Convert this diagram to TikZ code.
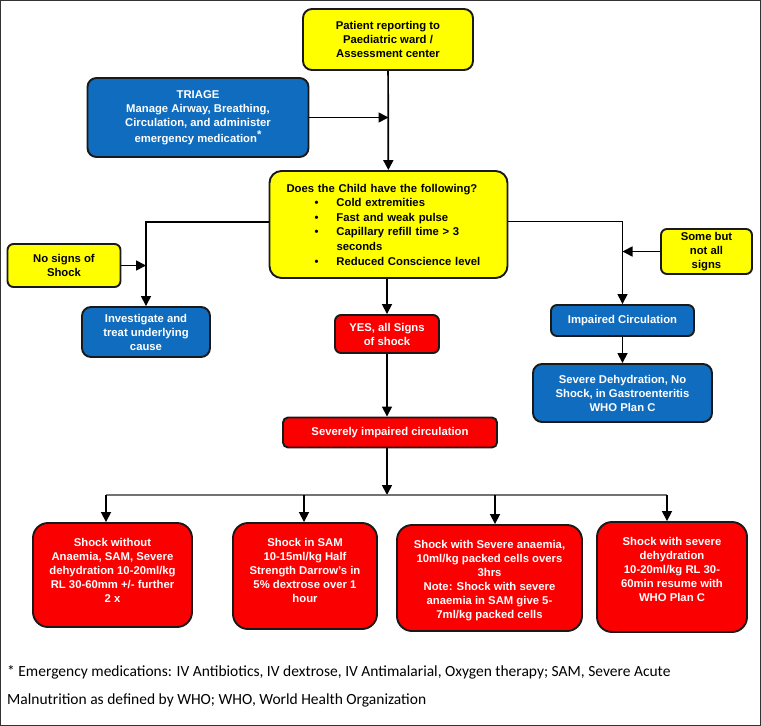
\documentclass[tikz,border=0pt]{standalone}
\usepackage{fontspec}
\setmainfont{Liberation Sans}
\newfontfamily\fnfont{Carlito}
\usetikzlibrary{arrows.meta}
\definecolor{boxyellow}{RGB}{255,255,0}
\definecolor{boxblue}{RGB}{16,108,190}
\definecolor{boxred}{RGB}{250,0,0}
\definecolor{edge}{RGB}{25,25,25}
\newcommand\topbox[3]{\parbox[c][#2][t]{#1}{\centering\rule{0pt}{23pt}#3}}
\begin{document}
\begin{tikzpicture}[x=1pt,y=-1pt,
  base/.style={draw=edge,line width=1.9pt,rounded corners=9pt,font=\fontsize{11.3}{14}\selectfont\bfseries,align=center,inner sep=0pt},
  ybox/.style={base,fill=boxyellow,text=black},
  bbox/.style={base,fill=boxblue,text=white},
  rbox/.style={base,fill=boxred,text=white},
  conn/.style={line width=1.7pt,draw=black},
  arr/.style={conn,-{Triangle[length=10pt,width=10pt]}},
  fn/.style={font=\fnfont\fontsize{15.5}{18}\selectfont,anchor=base west,inner sep=0pt}
]
\useasboundingbox (0,0) rectangle (761,726);
\draw[line width=1.4pt,black!80] (0.7,0.7) rectangle (760.3,725.3);

\node[ybox,minimum width=170pt,minimum height=61pt] (patient) at (388,39.5) {Patient reporting to\\Paediatric ward /\\Assessment center};
\node[bbox,minimum width=221pt,minimum height=79pt] (triage) at (198,117.5) {TRIAGE\\Manage Airway, Breathing,\\Circulation, and administer\\[2pt]emergency medication\raisebox{4pt}{*}};
\node[ybox,minimum width=238pt,minimum height=107pt,align=left,text width=204pt,inner xsep=17pt,rounded corners=12pt,font=\fontsize{11.3}{14.6}\selectfont\bfseries] (question) at (388.5,224.5) {Does the Child have the following?\\
\hspace*{28pt}\makebox[22pt][l]{\textbullet}Cold extremities\\
\hspace*{28pt}\makebox[22pt][l]{\textbullet}Fast and weak pulse\\
\hspace*{28pt}\makebox[22pt][l]{\textbullet}Capillary refill time > 3\\
\hspace*{50pt}seconds\\
\hspace*{28pt}\makebox[22pt][l]{\textbullet}Reduced Conscience level};
\node[ybox,minimum width=113pt,minimum height=43pt,rounded corners=6pt] (nosigns) at (64,265.5) {No signs of\\Shock};
\node[bbox,minimum width=128pt,minimum height=50pt] (invest) at (146,332) {Investigate and\\treat underlying\\cause};
\node[ybox,minimum width=91pt,minimum height=45pt,rounded corners=6pt] (some) at (706.5,251.5) {Some but\\not all\\signs};
\node[bbox,minimum width=143pt,minimum height=31pt,rounded corners=6pt] (impaired) at (622.5,320.5) {Impaired Circulation};
\node[bbox,minimum width=179pt,minimum height=58pt] (sevdeh) at (622.5,393) {Severe Dehydration, No\\Shock, in Gastroenteritis\\WHO Plan C};
\node[rbox,minimum width=104pt,minimum height=38pt,rounded corners=6pt] (yes) at (387,334) {YES, all Signs\\of shock};
\node[rbox,minimum width=214pt,minimum height=30pt,rounded corners=5pt] (severely) at (390,432.5) {Severely impaired circulation};

\node[rbox,rounded corners=15pt,minimum width=159pt] (b1) at (112.5,575) {\topbox{159pt}{104pt}{Shock without\\Anaemia, SAM, Severe\\dehydration 10-20ml/kg\\RL 30-60mm +/- further\\2 x}};
\node[rbox,rounded corners=15pt,minimum width=144pt] (b2) at (305,576) {\topbox{144pt}{106pt}{Shock in SAM\\10-15ml/kg Half\\Strength Darrow’s in\\5\% dextrose over 1\\hour}};
\node[rbox,rounded corners=15pt,minimum width=185pt] (b3) at (489.5,578) {\topbox{185pt}{106pt}{Shock with Severe anaemia,\\10ml/kg packed cells overs\\3hrs\\Note: Shock with severe\\anaemia in SAM give 5-\\7ml/kg packed cells}};
\node[rbox,rounded corners=15pt,minimum width=150pt] (b4) at (672,577) {\topbox{150pt}{110pt}{Shock with severe\\dehydration\\10-20ml/kg RL 30-\\60min resume with\\WHO Plan C}};

\node[fn] (fn1) at (7,676) {* Emergency medications: IV Antibiotics, IV dextrose, IV Antimalarial, Oxygen therapy; SAM, Severe Acute};
\node[fn] (fn2) at (7,704) {Malnutrition as defined by WHO; WHO, World Health Organization};

% connectors
\draw[arr] (patient) -- (question);
\draw[arr] (triage.east) -- (triage.east -| question.north);
\draw[conn,line width=1.4pt,-{Triangle[length=10pt,width=10pt]}] ([yshift=2.5pt]question.west) -| (invest.north);
\draw[arr] (nosigns.east) -- (nosigns.east -| invest.north);
\draw[conn,line width=1.4pt,-{Triangle[length=10pt,width=10pt]}] ([yshift=3pt]question.east) -| (impaired.north);
\draw[arr] (some.west) -- (some.west -| impaired.north);
\draw[arr] (impaired) -- (sevdeh);
\draw[arr] (question.south -| yes.north) -- (yes.north);
\draw[arr] (yes.south) -- (yes.south |- severely.north);
\coordinate (bus) at (387,495);
\coordinate (d1) at (106,495);
\coordinate (d2) at (304,495);
\coordinate (d3) at (495,495);
\coordinate (d4) at (667,495);
\draw[arr] (severely.south -| bus) -- (bus);
\draw[conn,draw=black!55] (d1) -- (d4);
\draw[arr] (d1) -- (d1 |- b1.north);
\draw[arr] (d2) -- (d2 |- b2.north);
\draw[arr] (d3) -- (d3 |- b3.north);
\draw[arr] (d4) -- (d4 |- b4.north);
\end{tikzpicture}
\end{document}
